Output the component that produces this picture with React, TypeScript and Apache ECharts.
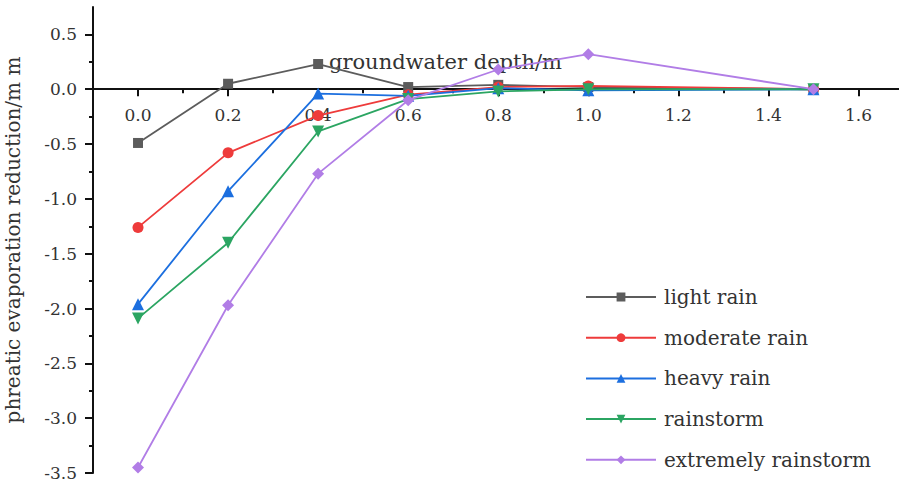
import React, { useEffect, useRef } from "react";
import * as echarts from "echarts";

const depths = [0, 0.2, 0.4, 0.6, 0.8, 1.0, 1.5];
const lightRain = [-0.49, 0.05, 0.23, 0.02, 0.04, 0.02, 0];
const moderateRain = [-1.26, -0.58, -0.24, -0.05, 0.02, 0.03, 0];
const heavyRain = [-1.96, -0.93, -0.04, -0.06, 0.01, -0.01, 0];
const rainstorm = [-2.09, -1.4, -0.385, -0.09, -0.02, 0.0, 0];
const extremeRainstorm = [-3.45, -1.97, -0.77, -0.1, 0.18, 0.32, 0];

const seriesNames = ["light rain", "moderate rain", "heavy rain", "rainstorm", "extremely rainstorm"];
const seriesValues = [lightRain, moderateRain, heavyRain, rainstorm, extremeRainstorm];
const seriesColors = ["#5c5c5c", "#ee3b3b", "#1c6fdf", "#2ba562", "#b17de6"];
const seriesSymbols = ["rect", "circle", "triangle", "triangle", "diamond"];

const xMajorTicks = [0, 0.2, 0.4, 0.6, 0.8, 1.0, 1.2, 1.4, 1.6];
const xMinorTicks = [0.1, 0.3, 0.5, 0.7, 0.9, 1.1, 1.3, 1.5];
const yMajorTicks = [-3.5, -3.0, -2.5, -2.0, -1.5, -1.0, -0.5, 0, 0.5];
const yMinorTicks = [-3.25, -2.75, -2.25, -1.75, -1.25, -0.75, -0.25, 0.25];

const xAxisTitle = "groundwater depth/m";
const yAxisTitle = "phreatic evaporation reduction/m m";

const FONT = "DejaVu Serif";
const X_MIN = -0.1;
const X_MAX = 1.69;
const Y_MIN = -3.5;
const Y_MAX = 0.75;

export default function App() {
  const ref = useRef<HTMLDivElement>(null);
  useEffect(() => {
    if (!ref.current) return;
    const chart = echarts.init(ref.current, null, { renderer: "svg" });
    const tickStyle = { color: "#111", width: 2 };
    const zeroFrac = Y_MAX / (Y_MAX - Y_MIN);
    const plotTop = 7;
    const plotBottom = 10;
    const plotHeight = 483 - plotTop - plotBottom;
    chart.setOption({
      animation: false,
      backgroundColor: "#ffffff",
      grid: [
        { left: 93, right: 0, top: plotTop, bottom: plotBottom, containLabel: false, outerBoundsMode: "none" },
        { left: 93, right: 0, top: plotTop, height: plotHeight * zeroFrac, containLabel: false, outerBoundsMode: "none" },
      ],
      xAxis: [
        {
          type: "value",
          gridIndex: 0,
          min: X_MIN,
          max: X_MAX,
          show: false,
        },
        {
          type: "value",
          gridIndex: 1,
          min: X_MIN,
          max: X_MAX,
          position: "bottom",
          axisLine: { show: true, onZero: false, lineStyle: tickStyle },
          axisTick: { show: true, length: 7, lineStyle: tickStyle, customValues: xMajorTicks },
          axisLabel: {
            show: true,
            customValues: xMajorTicks,
            margin: 17,
            fontFamily: FONT,
            fontSize: 17,
            color: "#333",
            formatter: (v: number) => v.toFixed(1),
          },
          splitLine: { show: false },
        },
        {
          type: "value",
          gridIndex: 1,
          min: X_MIN,
          max: X_MAX,
          position: "bottom",
          axisLine: { show: false, onZero: false },
          axisTick: { show: true, length: 4, lineStyle: tickStyle, customValues: xMinorTicks },
          axisLabel: { show: false },
          splitLine: { show: false },
        },
      ],
      yAxis: [
        {
          type: "value",
          gridIndex: 0,
          min: Y_MIN,
          max: Y_MAX,
          position: "left",
          name: yAxisTitle,
          nameLocation: "middle",
          nameGap: 70,
          nameRotate: 90,
          nameTextStyle: { fontFamily: FONT, fontSize: 20, color: "#333" },
          axisLine: { show: true, onZero: false, lineStyle: tickStyle },
          axisTick: { show: true, length: 8, lineStyle: tickStyle, customValues: yMajorTicks },
          axisLabel: {
            show: true,
            customValues: yMajorTicks,
            margin: 16,
            fontFamily: FONT,
            fontSize: 17,
            color: "#333",
            formatter: (v: number) => v.toFixed(1),
          },
          splitLine: { show: false },
        },
        {
          type: "value",
          gridIndex: 0,
          min: Y_MIN,
          max: Y_MAX,
          position: "left",
          offset: 0,
          axisLine: { show: false, onZero: false },
          axisTick: { show: true, length: 4, lineStyle: tickStyle, customValues: yMinorTicks },
          axisLabel: { show: false },
          splitLine: { show: false },
        },
        {
          type: "value",
          gridIndex: 1,
          min: 0,
          max: 1,
          show: false,
        },
      ],
      legend: {
        orient: "vertical",
        left: 585,
        top: 287,
        padding: 0,
        itemWidth: 70,
        itemHeight: 11,
        itemGap: 20.7,
        textStyle: { fontFamily: FONT, fontSize: 20, color: "#333", lineHeight: 20, padding: [0, 0, 0, 3] },
        data: seriesNames,
      },
      graphic: [
        {
          type: "text",
          left: 329,
          top: 51,
          style: { text: xAxisTitle, fontFamily: FONT, fontSize: 21, fill: "#333" },
          z: 1,
        },
      ],
      series: seriesNames.map((name, i) => ({
        name,
        type: "line",
        xAxisIndex: 0,
        yAxisIndex: 0,
        data: depths.map((d, j) => [d, seriesValues[i][j]]),
        symbol: seriesSymbols[i],
        symbolRotate: i === 3 ? 180 : 0,
        symbolSize: i === 0 ? 10 : i === 1 ? 11 : 12,
        lineStyle: { color: seriesColors[i], width: 1.8 },
        itemStyle: { color: seriesColors[i] },
        z: 3 + i,
      })),
    });
    return () => chart.dispose();
  }, []);
  return <div ref={ref} style={{ position: "fixed", left: 0, top: 0, width: 899, height: 483 }} />;
}
